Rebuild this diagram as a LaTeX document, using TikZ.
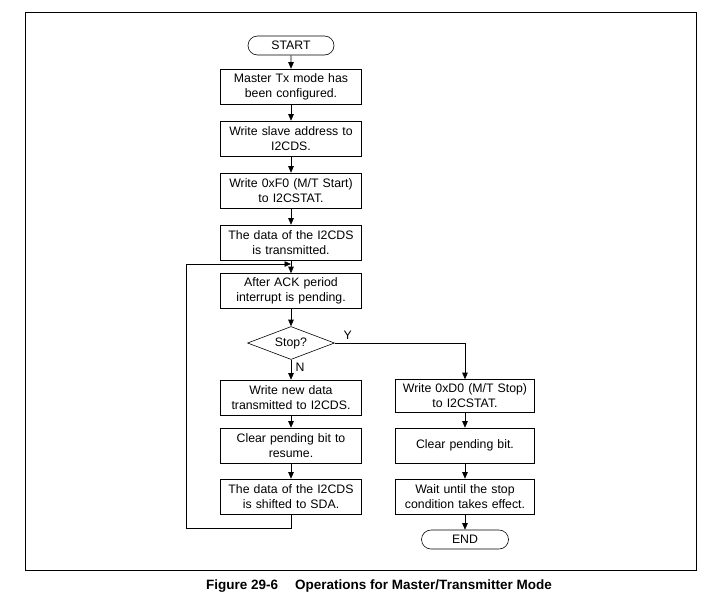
\documentclass[tikz,border=0pt]{standalone}
\usepackage{fontspec}
\setmainfont{Liberation Sans}
\usetikzlibrary{arrows.meta,positioning,shapes.geometric,shapes.misc}

\tikzset{
  stepbox/.style={draw, line width=0.6pt, minimum width=141pt, minimum height=35pt,
                  text width=135pt, align=center, inner sep=1pt,
                  font=\fontsize{12.3}{15}\selectfont},
  termbox/.style={draw, line width=0.6pt, rounded rectangle, minimum width=88pt,
                  minimum height=19pt, inner sep=1pt, font=\fontsize{12.3}{15}\selectfont},
  decbox/.style={draw, line width=0.6pt, diamond, aspect=2.6, minimum width=87pt,
                 minimum height=33pt, inner sep=0pt, font=\fontsize{12.3}{15}\selectfont},
  flow/.style={line width=0.6pt, -{Triangle[length=6.5pt,width=5.5pt]}},
  lbl/.style={font=\fontsize{12.3}{15}\selectfont}
}

\begin{document}
\begin{tikzpicture}[x=1pt,y=-1pt]
\useasboundingbox (0,0) rectangle (714,606);
% outer frame
\draw[line width=0.8pt] (25,12) rectangle (696,570);

% main column
\node[termbox] (start) at (291,45.5) {START};
\node[stepbox] (cfg) at (291,86.5) {Master Tx mode has\\been configured.};
\node[stepbox] (addr) at (291,138.5) {Write slave address to\\I2CDS.};
\node[stepbox] (mstart) at (291,190.5) {Write 0xF0 (M/T Start)\\to I2CSTAT.};
\node[stepbox] (sent) at (291,242.5) {The data of the I2CDS\\is transmitted.};
\node[stepbox] (ack) at (291,291) {After ACK period\\interrupt is pending.};
\node[decbox] (stop) at (291,343) {Stop?};

% N branch
\node[stepbox] (newdata) at (291,397.5) {Write new data\\transmitted to I2CDS.};
\node[stepbox] (clr) at (291,445.5) {Clear pending bit to\\resume.};
\node[stepbox] (shift) at (291,496.5) {The data of the I2CDS\\is shifted to SDA.};
\coordinate (loopin) at (291,264);

% Y branch
\node[stepbox, minimum width=139pt, minimum height=33pt] (mstop) at (465,396) {Write 0xD0 (M/T Stop)\\to I2CSTAT.};
\node[stepbox, minimum width=139pt] (clr2) at (465,445.5) {Clear pending bit.};
\node[stepbox, minimum width=139pt] (wait) at (465,496.5) {Wait until the stop\\condition takes effect.};
\node[termbox, minimum width=89pt] (end) at (465,539.5) {END};

\draw[flow] (start) -- (cfg);
\draw[flow] (cfg) -- (addr);
\draw[flow] (addr) -- (mstart);
\draw[flow] (mstart) -- (sent);
\draw[flow] (sent) -- (ack);
\draw[flow] (ack) -- (stop);
\draw[flow] (stop) -- (newdata) node[lbl, pos=0.35, right=1pt] {N};
\draw[flow] (newdata) -- (clr);
\draw[flow] (clr) -- (shift);
\draw[flow] (shift.south) -- ++(0,14) -| (186,264) -- (loopin);
\draw[flow] (stop.east) -| (mstop.north) node[lbl, pos=0.05, above] {Y};
\draw[flow] (mstop) -- (clr2);
\draw[flow] (clr2) -- (wait);
\draw[flow] (wait) -- (end);

% caption
\node[font=\bfseries\fontsize{13.5}{16}\selectfont, anchor=west, inner sep=0pt] (cap) at (206,586)
  {Figure 29-6\hspace{17pt}Operations for Master/Transmitter Mode};
\end{tikzpicture}
\end{document}
